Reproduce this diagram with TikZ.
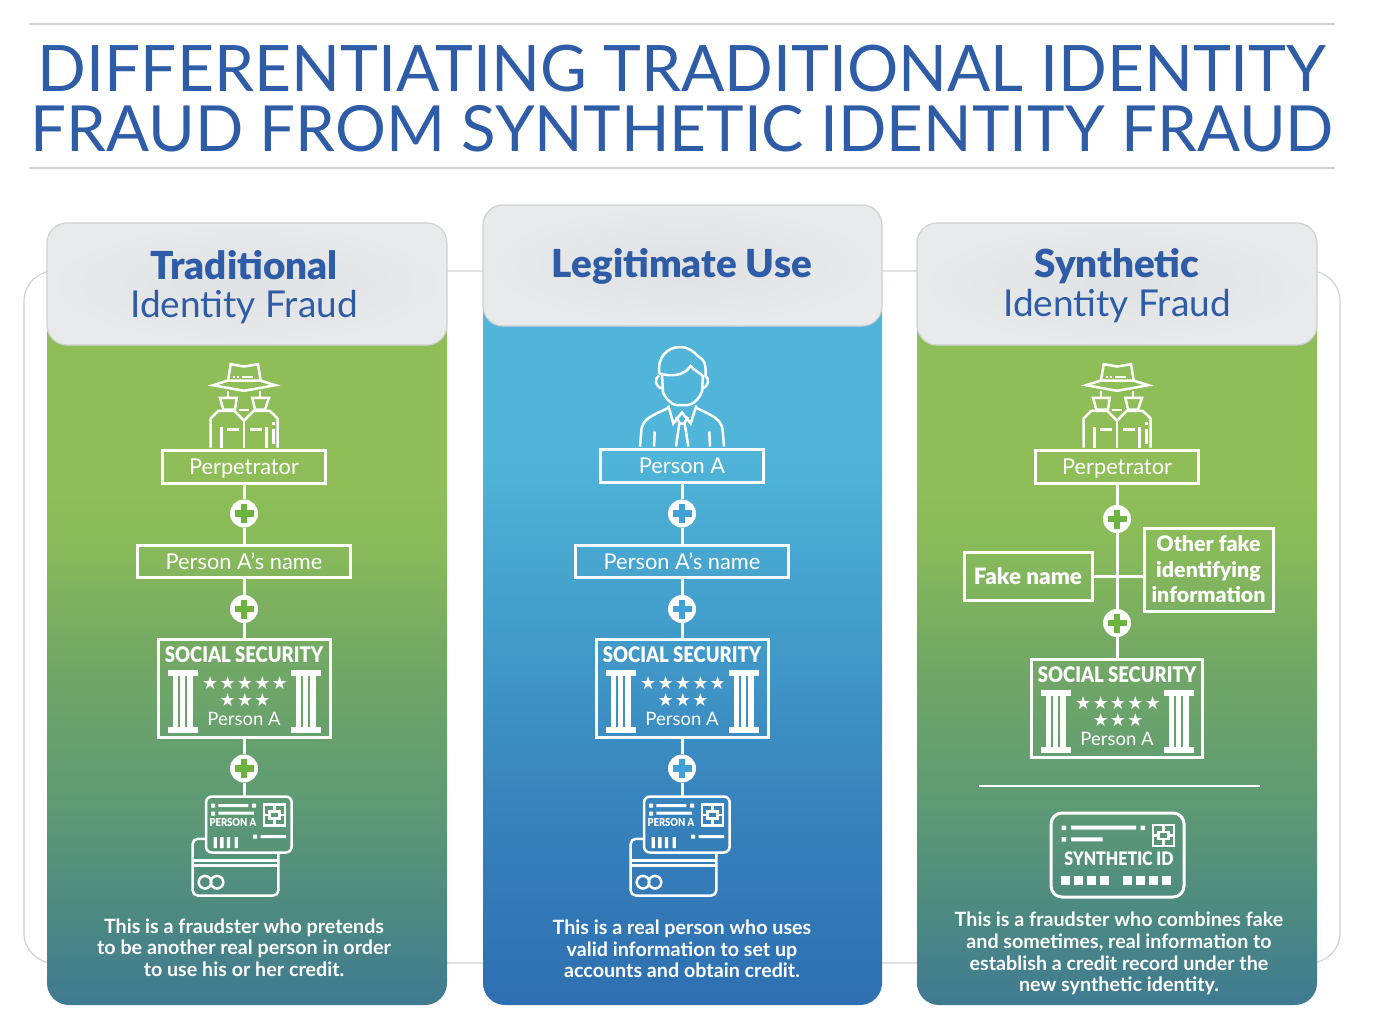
\documentclass[tikz,border=0pt]{standalone}
\usepackage{fontspec}
\setmainfont{Lato}
\newfontfamily\heavyfont{Lato Black}
\newfontfamily\demifont{Lato Bold}
\newfontfamily\narrowfont[FakeStretch=0.86]{Lato Black}
\newfontfamily\starfont[LetterSpace=7]{DejaVu Sans}
\usepackage{xcolor}
\definecolor{titleblue}{HTML}{2E5CA6}
\definecolor{rulegray}{HTML}{CFD1D2}
\definecolor{headgray}{HTML}{E9EAEB}
\definecolor{headmid}{HTML}{DFE1E3}
\definecolor{plusgreen}{HTML}{6DB33F}
\definecolor{plusblue}{HTML}{3FA1D6}
\definecolor{ga}{HTML}{3F7A92}
\definecolor{gb}{HTML}{4E8B7F}
\definecolor{gc}{HTML}{5E9A74}
\definecolor{gd}{HTML}{74A964}
\definecolor{ge}{HTML}{8ABB5A}
\definecolor{gf}{HTML}{8FBE59}
\definecolor{ba}{HTML}{2E6FB1}
\definecolor{bb}{HTML}{3884BC}
\definecolor{bc}{HTML}{44A0CC}
\definecolor{bd}{HTML}{50B5D8}
\usetikzlibrary{
  positioning,
  calc
}
\pgfdeclareverticalshading{greenfade}{100bp}{
  color(0bp)=(ga); color(25bp)=(ga); color(32bp)=(gb); color(39bp)=(gc);
  color(49.5bp)=(gd); color(57bp)=(ge); color(61bp)=(gf); color(100bp)=(gf)}
\pgfdeclareverticalshading{bluefade}{100bp}{
  color(0bp)=(ba); color(25bp)=(ba); color(39bp)=(bb); color(52bp)=(bc);
  color(62bp)=(bd); color(100bp)=(bd)}
\tikzset{
  fraudster/.pic={
    \draw[icon]
      (-31,-62.3) -- (-16,-67) -- (16,-67) -- (31.4,-62.3) -- (0,-56.7) -- cycle;
    \draw[icon] (-16,-67) -- (-13.3,-83.3) -- (0,-81) -- (14,-83.3) -- (16.6,-67);
    \draw[icon] (-11.3,-70.7) -- (-9,-70.7) (-7,-70.7) -- (-5,-70.7) (-2,-70.7) -- (9,-70.7);
    \draw[icon] (-16,-57) -- (-16,-51) (16,-57) -- (16,-51);
    \draw[icon] (-24,-49.7) -- (-7.3,-49.7) -- (-9,-38) -- (-20.7,-38) -- cycle;
    \draw[icon] (8.3,-49.7) -- (25,-49.7) -- (21,-38) -- (11,-38) -- cycle;
    \draw[icon] (-33.3,0) -- (-33.3,-29) -- (-25.7,-36.7) -- (-9.7,-36.7) -- (0,-26.7)
      -- (9.7,-36.7) -- (25.7,-36.7) -- (33.7,-29) -- (33.7,0);
    \draw[icon] (-5.3,-37.3) -- (5.3,-37.3) (0,-26.7) -- (0,0);
    \draw[icon] (-22.3,-20.7) -- (-22.3,0) (22.7,-20.7) -- (22.7,0);
    \draw[icon] (-17.3,-18) -- (-5,-18) (6,-18) -- (17.7,-18);
    \draw[icon] (29.3,-26) -- (29.3,-23) (29.3,-19) -- (29.3,-4);
  },
  realperson/.pic={
    % hair
    \draw[icon] (-22.7,-73) .. controls (-25,-90) and (-14,-99.5) .. (-2,-99.5)
      .. controls (6,-99.5) and (12,-95) .. (16.3,-90)
      .. controls (22,-87) and (24,-84) .. (23.7,-70);
    \draw[icon] (-22.7,-73) .. controls (-12,-70) and (2,-70) .. (8.7,-80.7)
      .. controls (12,-76) and (18,-74) .. (21.5,-70);
    % face and ears
    \draw[icon] (-20,-72) -- (-19,-54) .. controls (-16,-47) and (-9,-41.5) .. (-6,-41.5)
      -- (6,-41.5) .. controls (10,-41.5) and (17,-47) .. (20,-55) -- (21,-71);
    \draw[icon] (-23,-71) .. controls (-28,-68) and (-27,-60) .. (-20,-58);
    \draw[icon] (23,-71) .. controls (28,-68) and (27,-60) .. (20,-58);
    % suit
    \draw[icon] (-42,0) -- (-40.5,-18) .. controls (-38,-27) and (-33,-30) .. (-13.7,-38.5);
    \draw[icon] (42,0) -- (40.5,-18) .. controls (38,-27) and (33,-30) .. (14.3,-38.5);
    \draw[icon] (-13.7,-41) -- (-8.7,-23) -- (0,-34) -- (8.7,-23) -- (14.3,-41);
    \draw[icon] (-6,-29.5) -- (-2,-23) -- (2,-23) -- (6,-29.5);
    \draw[icon] (-2.7,-23) -- (-6,0) (2.7,-23) -- (6.3,0);
    \draw[icon] (-27.3,-15) -- (-28,0) (27.3,-15) -- (28,0);
  },
  pillar/.pic={
    \fill[white] (-15,0) rectangle (15,6);
    \fill[white] (-15,56.7) rectangle (15,62.7);
    \fill[white] (-10.3,6) rectangle (-5,56.7);
    \fill[white] (-3.3,6) rectangle (2.3,56.7);
    \fill[white] (4,6) rectangle (10.3,56.7);
  },
  emblem/.pic={
    \draw[icon] (-10.5,-10.5) rectangle (10.5,10.5);
    \draw[icon] (-5,-3.5) rectangle (5,3.5);
    \draw[icon] (0,-10.5) -- (0,-3.5) (0,3.5) -- (0,10.5);
    \draw[icon] (-10.5,0) -- (-5,0) (5,0) -- (10.5,0);
  },
  idcards/.pic={
    % rear card
    \draw[icon,rounded corners=5pt] (-38,42.3) -- (-51.3,42.3) -- (-51.3,99)
      -- (34.3,99) -- (34.3,57);
    \draw[icon] (-51.3,64) -- (34.3,64) (-51.3,69) -- (34.3,69);
    \draw[icon] (-39,85.7) circle[radius=6.3] (-27,85.7) circle[radius=6.3];
    % front card
    \draw[icon,rounded corners=6pt] (-38,0) rectangle (47.7,56);
    \fill[white] (-33,7) rectangle ++(4,4) (-33,15) rectangle ++(4,4)
      (8,7) rectangle ++(4,4) (9,38) rectangle ++(4,4);
    \fill[white] (-25.7,7.5) rectangle (4.3,10.5) (-25.7,15.2) rectangle (10,18.2)
      (16.7,38.5) rectangle (42,41.5);
    \fill[white] (-30.5,40.7) rectangle ++(3.4,11) (-23.8,40.7) rectangle ++(3.4,11)
      (-17.2,40.7) rectangle ++(3.4,11) (-9.5,40.7) rectangle ++(3.4,11);
    \pic at (30.7,18.7) {emblem};
  }
}
\begin{document}
\begin{tikzpicture}[
  x=1pt, y=-1pt,
  every node/.style={text=white, font=\fontsize{21.8}{24}\selectfont},
  rulegrayline/.style={rulegray, line width=1.6pt},
  icon/.style={draw=white, line width=2.5pt, line join=miter},
  header/.style={draw=rulegray, line width=1.2pt, rounded corners=20pt,
    inner color=headmid, outer color=headgray},
  whitebox/.style={draw=white, line width=3pt, inner sep=0pt, align=center},
  oneline/.style={text height=16pt, text depth=0pt},
  link/.style={draw=white, line width=3pt},
  plusdot/.style={circle, fill=white, draw=none, minimum size=28pt, inner sep=0pt,
    path picture={
      \fill[#1] ([xshift=-9.5pt,yshift=-3.3pt]path picture bounding box.center)
        rectangle ([xshift=9.5pt,yshift=3.3pt]path picture bounding box.center);
      \fill[#1] ([xshift=-3.3pt,yshift=-9.5pt]path picture bounding box.center)
        rectangle ([xshift=3.3pt,yshift=9.5pt]path picture bounding box.center);
    }},
  headtext/.style={text=titleblue, align=center, font=\fontsize{37}{39.5}\selectfont},
  headbold/.style={text=titleblue, font=\heavyfont\fontsize{38.6}{39.5}\selectfont},
  blurb/.style={align=center, font=\demifont\fontsize{19.7}{21.7}\selectfont},
  sstitle/.style={font=\narrowfont\fontsize{21.5}{24}\selectfont},
  sssmall/.style={font=\fontsize{18.5}{20}\selectfont},
  stars/.style={font=\starfont\fontsize{18}{17}\selectfont}
]
\useasboundingbox (0,0) rectangle (1386,1028);

% Title
\draw[rulegrayline] (29,24) -- (1335,24);
\draw[rulegrayline] (29,168) -- (1335,168);
\node[text=titleblue, align=center, font=\fontsize{64.1}{60}\selectfont] (title) at (682,98.5)
  {DIFFERENTIATING TRADITIONAL IDENTITY\\{\fontsize{63.6}{60}\selectfont FRAUD FROM SYNTHETIC IDENTITY FRAUD}};

% Frame behind the panels
\draw[rulegray, line width=1.2pt, rounded corners=30pt] (24,271) rectangle (1340,963);

% Panels
\path[shading=greenfade, rounded corners=22pt] (47,280) rectangle (447,1005);
\path[shading=bluefade, rounded corners=22pt] (483,260) rectangle (882,1005);
\path[shading=greenfade, rounded corners=22pt] (917,280) rectangle (1317,1005);
\path[header] (47,223) rectangle (447,345);
\path[header] (483,205) rectangle (882,326);
\path[header] (917,223) rectangle (1317,345);

\node[headbold] (headA) at (244,265) {Traditional};
\node[headtext] (subA) at (244,307) {Identity Fraud};
\node[headbold] (headB) at (682,266) {Legitimate Use};
\node[headbold] (headC) at (1117,266) {Synthetic};
\node[headtext] (subC) at (1117,306) {Identity Fraud};

% Left and middle columns
\foreach \cx/\tag/\pluscol/\who/\top in {244/A/plusgreen/Perpetrator/0, 682/B/plusblue/Person A/-1}{
  \node[whitebox, oneline, minimum width=163pt, minimum height=33pt] (who\tag) at (\cx,466.5+\top) {\who};
  \node[plusdot=\pluscol] (plusa\tag) at (\cx,513.5) {};
  \node[whitebox, oneline, minimum width=213pt, minimum height=32pt] (name\tag) at (\cx,561) {Person A’s name};
  \node[plusdot=\pluscol] (plusb\tag) at (\cx,609) {};
  \node[whitebox, minimum width=172pt, minimum height=98pt] (card\tag) at (\cx,688.5) {};
  \node[sstitle] (sstitle\tag) at (\cx,655) {SOCIAL SECURITY};
  \node[stars] (starsa\tag) at (\cx+1,683) {★★★★★};
  \node[stars] (starsb\tag) at (\cx+1,700) {★★★};
  \node[sssmall] (ssname\tag) at (\cx,719) {Person A};
  \pic at ($(\cx,638)+(-61,32)$) {pillar};
  \pic at ($(\cx,638)+(62,32)$) {pillar};
  \node[plusdot=\pluscol] (plusc\tag) at (\cx,768.5) {};
  \coordinate (idtop\tag) at (\cx,796.5);
  \pic at (\cx,796.5) {idcards};
  \node[font=\narrowfont\fontsize{11}{12}\selectfont] (idname\tag) at (\cx-11,822.5) {PERSON A};
  \draw[link] (who\tag) -- (plusa\tag);
  \draw[link] (plusa\tag) -- (name\tag);
  \draw[link] (name\tag) -- (plusb\tag);
  \draw[link] (plusb\tag) -- (card\tag);
  \draw[link] (card\tag) -- (plusc\tag);
  \draw[link] (plusc\tag) -- (idtop\tag);
}
\pic at (244,447.5) {fraudster};
\pic at (682,446.5) {realperson};

\node[blurb] (blurbA) at (244,947.5)
  {This is a fraudster who pretends\\to be another real person in order\\to use his or her credit.};
\node[blurb] (blurbB) at (682,949)
  {This is a real person who uses\\valid information to set up\\accounts and obtain credit.};

% Right column
\pic at (1117,447.5) {fraudster};
\node[whitebox, oneline, minimum width=163pt, minimum height=33pt] (whoC) at (1117,466.5) {Perpetrator};
\node[plusdot=plusgreen] (plusaC) at (1117,519) {};
\coordinate (joinC) at (1117,576);
\node[whitebox, oneline, minimum width=128pt, minimum height=48pt, font=\heavyfont\fontsize{22.5}{24.5}\selectfont]
  (fakename) at (1028,576) {Fake name};
\node[whitebox, minimum width=129pt, minimum height=83pt, font=\heavyfont\fontsize{21.4}{25.5}\selectfont]
  (otherfake) at (1208.5,569.5) {Other fake\\identifying\\information};
\node[plusdot=plusgreen] (plusbC) at (1117,623) {};
\node[whitebox, minimum width=171pt, minimum height=98pt] (cardC) at (1117,708) {};
\node[sstitle] (sstitleC) at (1117,675) {SOCIAL SECURITY};
\node[stars] (starsaC) at (1118,703) {★★★★★};
\node[stars] (starsbC) at (1118,720) {★★★};
\node[sssmall] (ssnameC) at (1117,739) {Person A};
\pic at (1056,690) {pillar};
\pic at (1179,690) {pillar};
\draw[link] (whoC) -- (plusaC);
\draw[link] (plusaC) -- (plusbC);
\draw[link] (plusbC) -- (cardC);
\draw[link] (fakename.east) -- (joinC -| otherfake.west);

% Synthetic card
\draw[white, line width=2.4pt] (979,786) -- (1260,786);
\draw[icon, line width=3pt, rounded corners=11pt] (1051,813) rectangle (1184,897);
\fill[white] (1061.5,825.5) rectangle ++(4.5,4.5) (1061.5,837) rectangle ++(4.5,4.5)
  (1140.5,825.5) rectangle ++(4.5,4.5);
\fill[white] (1071,825.7) rectangle (1136,829.7) (1071,837.3) rectangle (1102.7,841.3);
\pic at (1163.7,835.5) {emblem};
\node[font=\narrowfont\fontsize{18.6}{22}\selectfont] (synthid) at (1119,859) {SYNTHETIC ID};
\foreach \sx in {1061,1074,1087,1100,1123,1136,1149,1162}{
  \fill[white] (\sx,876) rectangle ++(9,8.5);
}
\node[blurb] (blurbC) at (1119,953.5)
  {This is a fraudster who combines fake\\and sometimes, real information to\\establish a credit record under the\\new synthetic identity.};
\end{tikzpicture}
\end{document}
